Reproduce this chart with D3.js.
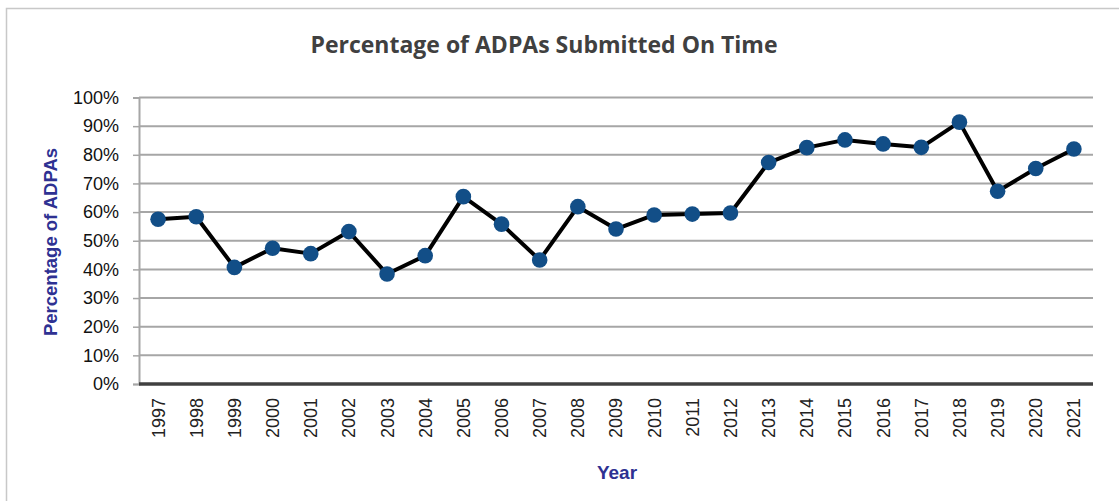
<!DOCTYPE html>
<html>
<head>
<meta charset="utf-8">
<script src="https://cdn.jsdelivr.net/npm/d3@7"></script>
<style>
  body { margin: 0; background: #fff; }
  svg { display: block; }
  .grid line { stroke: #a6a6a6; stroke-width: 2px; }
</style>
</head>
<body>
<div id="chart"></div>
<script>
// data
var years = ["1997","1998","1999","2000","2001","2002","2003","2004","2005","2006","2007","2008",
             "2009","2010","2011","2012","2013","2014","2015","2016","2017","2018","2019","2020","2021"];
var onTime = [57.5, 58.4, 40.7, 47.4, 45.5, 53.2, 38.4, 44.8, 65.4, 55.8, 43.3, 61.9,
              54.1, 59.0, 59.3, 59.7, 77.3, 82.5, 85.2, 83.8, 82.6, 91.4, 67.3, 75.2, 82.0];
var yTicks = [0, 10, 20, 30, 40, 50, 60, 70, 80, 90, 100];

var data = years.map(function(y, i) { return {year: y, value: onTime[i]}; });

var W = 1119, H = 501;
var plotLeft = 139, plotRight = 1093, plotTop = 97.5, plotBottom = 384;

var svg = d3.select("#chart").append("svg")
  .attr("width", W).attr("height", H);

// chart frame
svg.append("rect")
  .attr("x", 6.5).attr("y", 8.5)
  .attr("width", W + 10).attr("height", H + 10)
  .attr("fill", "none").attr("stroke", "#c8c8c8").attr("stroke-width", 1.5);

var x = d3.scaleBand().domain(years).range([plotLeft, plotRight]);
var y = d3.scaleLinear().domain([0, 100]).range([plotBottom, plotTop]);

// gridlines
svg.append("g").attr("class", "grid")
  .selectAll("line")
  .data(yTicks.filter(function(d) { return d > 0; }))
  .enter().append("line")
  .attr("x1", plotLeft).attr("x2", plotRight)
  .attr("y1", function(d) { return y(d); })
  .attr("y2", function(d) { return y(d); });

// y axis
var yAxis = svg.append("g")
  .attr("transform", "translate(" + plotLeft + ",0)")
  .call(d3.axisLeft(y).tickValues(yTicks).tickSize(6).tickPadding(14)
    .tickFormat(function(d) { return d + "%"; }));
yAxis.select(".domain").attr("stroke", "#a6a6a6").attr("stroke-width", 2);
yAxis.selectAll(".tick line").attr("stroke", "#a6a6a6").attr("stroke-width", 1.5);
yAxis.selectAll("text")
  .attr("font-family", "Liberation Sans, Arial, sans-serif")
  .attr("font-size", "18px")
  .attr("fill", "#111");

// x axis
var xAxis = svg.append("g")
  .attr("transform", "translate(0," + plotBottom + ")")
  .call(d3.axisBottom(x).tickSize(0).tickPadding(0));
xAxis.select(".domain").remove();
xAxis.selectAll("text")
  .attr("font-family", "Liberation Sans, Arial, sans-serif")
  .attr("font-size", "18px")
  .attr("fill", "#222")
  .attr("text-anchor", "end")
  .attr("transform", "translate(0,14) rotate(-90)")
  .attr("x", 0).attr("y", 0)
  .attr("dy", "0.36em");

// thick baseline
svg.append("line")
  .attr("x1", plotLeft).attr("x2", plotRight)
  .attr("y1", plotBottom).attr("y2", plotBottom)
  .attr("stroke", "#404040").attr("stroke-width", 3.5);

// line
var line = d3.line()
  .x(function(d) { return x(d.year) + x.bandwidth() / 2; })
  .y(function(d) { return y(d.value); });

svg.append("path")
  .datum(data)
  .attr("d", line)
  .attr("fill", "none")
  .attr("stroke", "#000")
  .attr("stroke-width", 4)
  .attr("stroke-linejoin", "round");

svg.append("g")
  .selectAll("circle")
  .data(data)
  .enter().append("circle")
  .attr("cx", function(d) { return x(d.year) + x.bandwidth() / 2; })
  .attr("cy", function(d) { return y(d.value); })
  .attr("r", 7.8)
  .attr("fill", "#124e87");

// title
svg.append("text")
  .attr("x", 544).attr("y", 53)
  .attr("text-anchor", "middle")
  .attr("font-family", "Open Sans, sans-serif")
  .attr("font-weight", 700)
  .attr("font-size", "23px")
  .attr("fill", "#404040")
  .text("Percentage of ADPAs Submitted On Time");

// axis titles
svg.append("text")
  .attr("transform", "translate(57,242) rotate(-90)")
  .attr("text-anchor", "middle")
  .attr("font-family", "Liberation Sans, Arial, sans-serif")
  .attr("font-weight", 700)
  .attr("font-size", "18.5px")
  .attr("fill", "#2e3192")
  .text("Percentage of ADPAs");

svg.append("text")
  .attr("x", 617).attr("y", 479)
  .attr("text-anchor", "middle")
  .attr("font-family", "Liberation Sans, Arial, sans-serif")
  .attr("font-weight", 700)
  .attr("font-size", "19px")
  .attr("fill", "#2e3192")
  .text("Year");
</script>
</body>
</html>
